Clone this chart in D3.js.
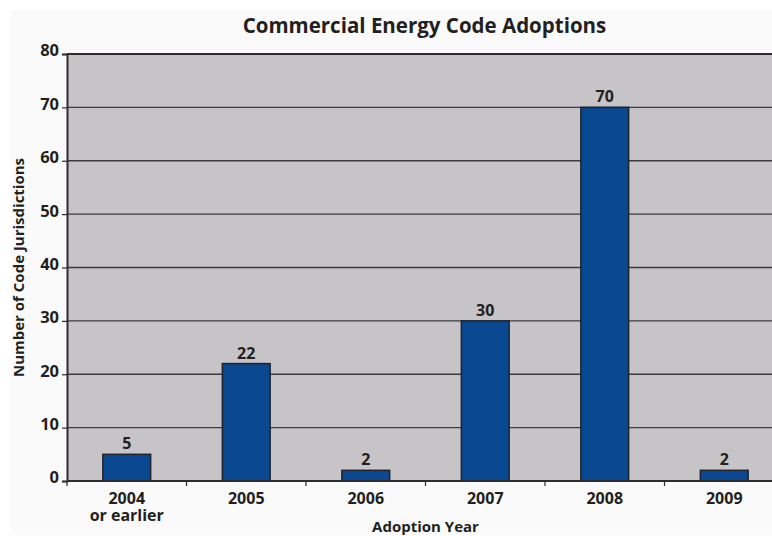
<!DOCTYPE html>
<html>
<head>
<meta charset="utf-8">
<script src="https://cdn.jsdelivr.net/npm/d3@7/dist/d3.min.js"></script>
<style>
  html, body { margin: 0; padding: 0; background: #ffffff; }
  svg { display: block; }
  text { font-family: "Open Sans", "Noto Sans", sans-serif; font-weight: 700; fill: #231f20; }
</style>
</head>
<body>
<svg id="chart" width="772" height="536"></svg>
<script>
// Adoption counts by year
const categories = ["2004", "2005", "2006", "2007", "2008", "2009"];
const categorySubLabels = ["or earlier", "", "", "", "", ""];
const adoptions = [5, 22, 2, 30, 70, 2];
const yTicks = [0, 10, 20, 30, 40, 50, 60, 70, 80];

const svg = d3.select("#chart");
const W = 772, H = 536;

// Plot region (the panel runs slightly past the right edge of the page)
const plot = { left: 67, right: 784, top: 54, bottom: 481 };

// Light backing panel
svg.append("rect")
  .attr("x", 11).attr("y", 10)
  .attr("width", W - 11).attr("height", 525)
  .attr("fill", "#fafafa");

const x = d3.scaleBand()
  .domain(categories)
  .range([plot.left, plot.right])
  .paddingInner(0.6)
  .paddingOuter(0.3);

const y = d3.scaleLinear()
  .domain([0, 80])
  .range([plot.bottom, plot.top]);

// Gray plot background
svg.append("rect")
  .attr("x", plot.left).attr("y", plot.top)
  .attr("width", plot.right - plot.left)
  .attr("height", plot.bottom - plot.top)
  .attr("fill", "#c6c4c6");

// Horizontal gridlines
svg.append("g")
  .selectAll("line")
  .data(yTicks.filter(d => d > 0 && d < 80))
  .join("line")
  .attr("x1", plot.left).attr("x2", plot.right)
  .attr("y1", d => y(d)).attr("y2", d => y(d))
  .attr("stroke", "#3d3b3c")
  .attr("stroke-width", 1.4);

// Top border of the plot
svg.append("line")
  .attr("x1", plot.left).attr("x2", plot.right)
  .attr("y1", y(80)).attr("y2", y(80))
  .attr("stroke", "#2e2c2d")
  .attr("stroke-width", 2.2);

const rows = categories.map((c, i) => ({ c, v: adoptions[i] }));

// Bars
svg.append("g")
  .selectAll("rect")
  .data(rows)
  .join("rect")
  .attr("x", d => x(d.c))
  .attr("y", d => y(d.v))
  .attr("width", x.bandwidth())
  .attr("height", d => y(0) - y(d.v))
  .attr("fill", "#0b4892")
  .attr("stroke", "#1f2330")
  .attr("stroke-width", 1.5);

// Value labels
svg.append("g")
  .selectAll("text")
  .data(rows)
  .join("text")
  .attr("x", d => x(d.c) + x.bandwidth() / 2)
  .attr("y", d => y(d.v) - 5)
  .attr("text-anchor", "middle")
  .attr("font-size", 16)
  .text(d => d.v);

// Y axis
const yAxis = d3.axisLeft(y)
  .tickValues(yTicks)
  .tickSize(5)
  .tickPadding(3)
  .tickFormat(d3.format("d"));
const gy = svg.append("g")
  .attr("transform", `translate(${plot.left},0)`)
  .call(yAxis);
gy.select(".domain").attr("stroke", "#2e2c2d").attr("stroke-width", 2);
gy.selectAll(".tick line").attr("stroke", "#2e2c2d").attr("stroke-width", 1.2);
gy.selectAll(".tick text")
  .attr("font-size", 16.5)
  .attr("font-family", "\"Open Sans\", sans-serif")
  .attr("font-weight", 700)
  .attr("fill", "#231f20")
  .attr("dy", "0.12em");

// X axis baseline and category boundary ticks
svg.append("line")
  .attr("x1", plot.left).attr("x2", plot.right)
  .attr("y1", y(0)).attr("y2", y(0))
  .attr("stroke", "#2e2c2d")
  .attr("stroke-width", 2);

const step = x.step();
const boundaries = d3.range(categories.length + 1)
  .map(i => x(categories[0]) - step * x.paddingInner() / 2 + i * step);
svg.append("g")
  .selectAll("line")
  .data(boundaries)
  .join("line")
  .attr("x1", d => d).attr("x2", d => d)
  .attr("y1", y(0)).attr("y2", y(0) + 5)
  .attr("stroke", "#2e2c2d")
  .attr("stroke-width", 1.2);

// Category labels (two-line label for the first category)
const xl = svg.append("g");
categories.forEach((c, i) => {
  const cx = x(c) + x.bandwidth() / 2;
  const t = xl.append("text")
    .attr("x", cx).attr("y", 504)
    .attr("text-anchor", "middle")
    .attr("font-size", 16);
  t.append("tspan").attr("x", cx).text(c);
  if (categorySubLabels[i]) {
    t.append("tspan").attr("x", cx).attr("dy", 17).text(categorySubLabels[i]);
  }
});

// Titles
svg.append("text")
  .attr("x", (plot.left + plot.right) / 2 - 1).attr("y", 33)
  .attr("text-anchor", "middle")
  .attr("font-size", 20.5)
  .text("Commercial Energy Code Adoptions");

svg.append("text")
  .attr("x", (plot.left + plot.right) / 2).attr("y", 532)
  .attr("text-anchor", "middle")
  .attr("font-size", 15)
  .text("Adoption Year");

svg.append("text")
  .attr("transform", `translate(24,${(plot.top + plot.bottom) / 2}) rotate(-90)`)
  .attr("text-anchor", "middle")
  .attr("font-size", 15)
  .text("Number of Code Jurisdictions");
</script>
</body>
</html>
